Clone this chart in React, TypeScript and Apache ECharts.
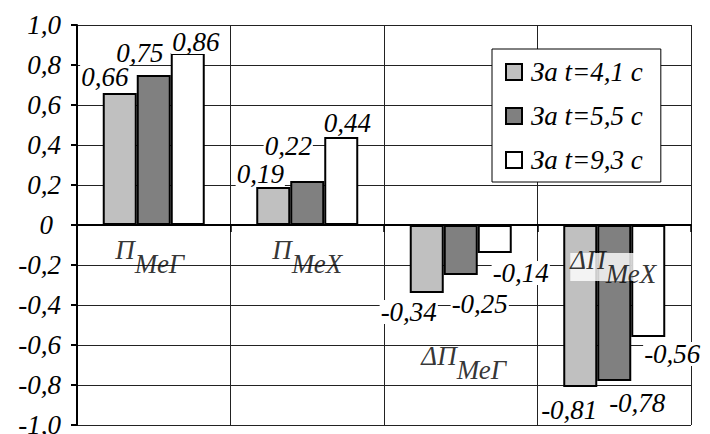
import React, { useEffect, useRef } from 'react';
import * as echarts from 'echarts';

// ---- data ----
const categories = ['ПМеГ', 'ПМеХ', 'ΔПМеГ', 'ΔПМеХ'];
const catMain = ['П', 'П', 'ΔП', 'ΔП'];
const catSub = ['МеГ', 'МеХ', 'МеГ', 'МеХ'];
const seriesNames = ['За t=4,1 с', 'За t=5,5 с', 'За t=9,3 с'];
const values41 = [0.66, 0.19, -0.34, -0.81];
const values55 = [0.75, 0.22, -0.25, -0.78];
const values93 = [0.86, 0.44, -0.14, -0.56];
const yMin = -1;
const yMax = 1;
const yStep = 0.2;

// ---- layout / style ----
const colors = ['#c0c0c0', '#808080', '#ffffff'];
const catLabelY = [-0.16, -0.16, -0.69, -0.21];
const catLabelDx = [-4, 0, 3, -1];
const labelOffsets = [
  [[-15, 0], [-13, 3], [-18, 3], [-11, 7]],
  [[-14, -6], [-19, -19], [19, 13], [23, 6]],
  [[8, 5], [6, 2], [26, 4], [24, 1]],
];
const FONT = 'Liberation Serif, Times New Roman, serif';

const fmtVal = (v: number) => v.toFixed(2).replace('.', ',');

export default function App() {
  const ref = useRef<HTMLDivElement>(null);
  useEffect(() => {
    if (!ref.current) return;
    const chart = echarts.init(ref.current, undefined, { renderer: 'svg' });
    const allValues = [values41, values55, values93];
    const barSeries = allValues.map((vals, si) => ({
      name: seriesNames[si],
      type: 'bar',
      barWidth: 34,
      barGap: '0%',
      z: 2,
      itemStyle: { color: colors[si], borderColor: '#000', borderWidth: 2 },
      data: vals.map((v, ci) => ({
        value: v,
        label: {
          show: true,
          position: v >= 0 ? 'top' : 'bottom',
          distance: 4,
          offset: labelOffsets[si][ci],
          formatter: () => fmtVal(v),
          fontFamily: FONT,
          fontStyle: 'italic',
          fontSize: 27,
          color: '#000',
          lineHeight: 22,
          backgroundColor: '#fff',
          padding: [1, 1],
        },
      })),
    }));
    const catSeries = {
      name: '__cats',
      type: 'scatter',
      symbolSize: 0,
      silent: true,
      z: 6,
      data: categories.map((c, i) => ({
        name: c,
        value: [i, catLabelY[i]],
        label: {
          show: true,
          position: 'inside',
          offset: [catLabelDx[i], 0],
          backgroundColor: i === 3 ? '#fff' : 'transparent',
          formatter: () => `{a|${catMain[i]}}{b|${catSub[i]}}`,
        },
      })),
      label: {
        show: true,
        color: '#000',
        fontFamily: FONT,
        fontStyle: 'italic',
        rich: {
          a: { fontFamily: FONT, fontStyle: 'italic', fontSize: 27, color: '#000', lineHeight: 28, padding: [0, 0, 14, 0] },
          b: { fontFamily: FONT, fontStyle: 'italic', fontSize: 27, color: '#000', lineHeight: 28, padding: [14, 0, 0, 0] },
        },
      },
    };
    chart.setOption({
      animation: false,
      backgroundColor: '#fff',
      textStyle: { fontFamily: FONT, fontStyle: 'italic' },
      grid: { left: 77, right: 19, top: 25, bottom: 9, containLabel: false, outerBoundsMode: 'none' },
      legend: {
        data: seriesNames,
        orient: 'vertical',
        left: 492,
        top: 49,
        backgroundColor: '#fff',
        borderColor: '#000',
        borderWidth: 1,
        padding: [9, 18, 8, 13],
        itemWidth: 16,
        itemHeight: 16,
        itemGap: 16,
        icon: 'rect',
        textStyle: {
          fontFamily: FONT,
          fontStyle: 'italic',
          fontSize: 27,
          lineHeight: 28,
          color: '#000',
          padding: [0, 0, 0, 4],
        },
      },
      xAxis: {
        type: 'category',
        data: categories,
        boundaryGap: true,
        axisLine: { onZero: true, lineStyle: { color: '#000', width: 2 } },
        axisTick: { show: true, length: 7, lineStyle: { color: '#000', width: 1.5 } },
        axisLabel: { show: false },
        splitLine: { show: true, lineStyle: { color: '#222', width: 1 } },
      },
      yAxis: {
        type: 'value',
        min: yMin,
        max: yMax,
        interval: yStep,
        axisLine: { show: true, lineStyle: { color: '#000', width: 2 } },
        axisTick: { show: true, length: 6, lineStyle: { color: '#000', width: 2 } },
        axisLabel: {
          margin: 16,
          fontFamily: FONT,
          fontStyle: 'italic',
          fontSize: 27,
          color: '#000',
          formatter: (v: number) => (Math.abs(v) < 1e-9 ? '{z|0}' : v.toFixed(1).replace('.', ',')),
          rich: {
            z: { fontFamily: FONT, fontStyle: 'italic', fontSize: 27, color: '#000', padding: [0, 8, 0, 0] },
          },
        },
        splitLine: { show: true, lineStyle: { color: '#222', width: 1 } },
      },
      series: [...barSeries, catSeries],
    });
    return () => chart.dispose();
  }, []);
  return <div ref={ref} style={{ width: 710, height: 434, position: 'absolute', left: 0, top: 0 }} />;
}
